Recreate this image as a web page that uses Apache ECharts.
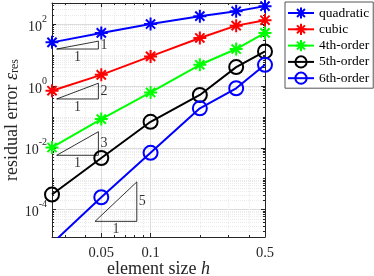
<!DOCTYPE html>
<html><head><meta charset="utf-8">
<script src="https://cdn.jsdelivr.net/npm/echarts@6/dist/echarts.min.js"></script>
<style>html,body{margin:0;padding:0;background:#fff}#c{width:374px;height:276px}</style>
</head><body><div id="c"></div>
<script>
// ---- data ----
const hValues = [0.025, 0.05, 0.1, 0.2, 1/3, 0.5];
const seriesNames = ['quadratic', 'cubic', '4th-order', '5th-order', '6th-order'];
const quadratic = [25.6, 51.8, 100, 180, 261, 380];
const cubic = [0.70, 2.28, 9.0, 35.5, 89, 133];
const order4 = [0.0102, 0.0845, 0.615, 4.82, 15.6, 51.8];
const order5 = [3.07e-4, 4.67e-3, 0.069, 0.509, 4.06, 13.0];
const order6 = [8.0e-6, 2.51e-4, 6.87e-3, 0.188, 0.84, 4.82];
const xTickValues = [0.05, 0.1, 0.5];
const yTickValues = [1e-4, 1e-2, 1, 1e2];
// slope triangles
const triX0 = [0.0267, 0.0267, 0.0267, 0.0458];
const triX1 = [0.048, 0.048, 0.048, 0.0824];
const triY0 = [15.6, 0.378, 5.7e-3, 4.17e-5];
const triSlope = [1, 2, 3, 5];

const xMin = 0.025, xMax = 0.5, yMin = 1.3e-5, yMax = 480;
const FONT = 'Liberation Serif';
const AXC = '#262626';

function minorValues(lo, hi, majors) {
  const out = [];
  for (let k = -6; k <= 3; k++) for (let m = 1; m <= 9; m++) {
    const v = +(m * Math.pow(10, k)).toPrecision(6);
    if (v > lo && v < hi && !majors.some(t => Math.abs(t - v) / v < 1e-6)) out.push(v);
  }
  return out;
}
const xMinor = minorValues(xMin, xMax, xTickValues);
const yMinor = minorValues(yMin, yMax, yTickValues);

const colors = ['#0000ff', '#ff0000', '#00ff00', '#000000', '#0000ff'];
const values = [quadratic, cubic, order4, order5, order6];
const STAR = 'path://M0,-10L0,10M-10,0L10,0M-7.07,-7.07L7.07,7.07M-7.07,7.07L7.07,-7.07';
const symbols = [STAR, STAR, STAR, 'circle', 'circle'];

const mainSeries = seriesNames.map((name, i) => ({
  name, type: 'line', xAxisIndex: 0, yAxisIndex: 0, z: 5,
  data: hValues.map((h, j) => [h, values[i][j]]),
  symbol: symbols[i], symbolSize: i < 3 ? 13 : 14,
  showAllSymbol: true,
  lineStyle: { color: colors[i], width: 2 },
  itemStyle: { color: i < 3 ? colors[i] : 'rgba(0,0,0,0)', borderColor: colors[i], borderWidth: 2 },
  emphasis: { disabled: true }, animation: false
}));

const triSeries = [];
const triLabels = [];
triX0.forEach((x0, i) => {
  const x1 = triX1[i], y0 = triY0[i], y1 = y0 * Math.pow(x1 / x0, triSlope[i]);
  triSeries.push({
    type: 'line', xAxisIndex: 0, yAxisIndex: 0, z: 3, silent: true, symbol: 'none',
    data: [[x0, y0], [x1, y0], [x1, y1], [x0, y0]],
    lineStyle: { color: '#000', width: 0.8 }, animation: false
  });
  triLabels.push({ name: '1', value: [Math.sqrt(x0 * x1), y0], label: { position: 'bottom', distance: 1 } });
  triLabels.push({ name: String(triSlope[i]), value: [x1, Math.sqrt(y0 * y1)], label: { position: 'right', distance: 2 } });
});

const labelSeries = {
  type: 'scatter', xAxisIndex: 0, yAxisIndex: 0, symbolSize: 0, silent: true, z: 4,
  data: triLabels,
  label: { show: true, formatter: '{b}', fontFamily: FONT, fontSize: 14, color: '#000' },
  animation: false
};

function xAx(extra) {
  return Object.assign({
    type: 'log', min: xMin, max: xMax, logBase: 10,
    axisLine: { show: false }, axisTick: { show: false }, axisLabel: { show: false },
    splitLine: { show: false }, minorTick: { show: false }, minorSplitLine: { show: false }
  }, extra);
}
function yAx(extra) {
  return Object.assign({
    type: 'log', min: yMin, max: yMax, logBase: 10,
    axisLine: { show: false }, axisTick: { show: false }, axisLabel: { show: false },
    splitLine: { show: false }, minorTick: { show: false }, minorSplitLine: { show: false }
  }, extra);
}

const option = {
  animation: false,
  backgroundColor: '#fff',
  grid: { left: 52, right: 109, top: 3, bottom: 39, containLabel: false, outerBoundsMode: 'none' },
  legend: {
    data: seriesNames, orient: 'vertical', left: 285, top: 2,
    padding: [4, 4, 3, 2], itemGap: 2.3, itemWidth: 26, itemHeight: 14,
    borderColor: '#555', borderWidth: 1, backgroundColor: '#fff', borderRadius: 0,
    textStyle: { fontFamily: FONT, fontSize: 13.5, color: '#000' },
    selectedMode: false
  },
  xAxis: [
    xAx({
      position: 'bottom',
      axisLine: { show: true, lineStyle: { color: AXC, width: 1 } },
      axisTick: { show: true, inside: true, length: 4, customValues: xTickValues, lineStyle: { color: AXC } },
      axisLabel: { show: true, customValues: xTickValues, formatter: v => String(+(+v).toPrecision(3)),
        fontFamily: FONT, fontSize: 14.5, color: AXC, margin: 9 },
      splitLine: { show: true, lineStyle: { color: '#dcdcdc', width: 1 } },
      name: '{n|element size }{i|h}', nameLocation: 'middle', nameGap: 23, nameMoveOverlap: false,
      nameTextStyle: { rich: { n: { fontFamily: FONT, fontSize: 18, color: AXC }, i: { fontFamily: FONT, fontSize: 18, fontStyle: 'italic', color: AXC } } }
    }),
    xAx({
      position: 'top',
      axisLine: { show: true, lineStyle: { color: AXC, width: 1 } },
      axisTick: { show: true, inside: true, length: 4, customValues: xTickValues, lineStyle: { color: AXC } }
    }),
    xAx({
      position: 'bottom',
      axisTick: { show: true, inside: true, length: 2, customValues: xMinor, lineStyle: { color: AXC } },
      splitLine: { show: true, lineStyle: { color: '#ebebeb', width: 1, type: [1, 1] } }
    }),
    xAx({
      position: 'top',
      axisTick: { show: true, inside: true, length: 2, customValues: xMinor, lineStyle: { color: AXC } }
    })
  ],
  yAxis: [
    yAx({
      position: 'left',
      axisLine: { show: true, lineStyle: { color: AXC, width: 1 } },
      axisTick: { show: true, inside: true, length: 4, customValues: yTickValues, lineStyle: { color: AXC } },
      axisLabel: { show: true, customValues: yTickValues, margin: 5,
        formatter: v => '{b|10}{s|' + Math.round(Math.log10(v)) + '}',
        rich: {
          b: { fontFamily: FONT, fontSize: 14, color: AXC, lineHeight: 20, verticalAlign: 'bottom' },
          s: { fontFamily: FONT, fontSize: 10, color: AXC, lineHeight: 10, verticalAlign: 'top' }
        } },
      splitLine: { show: true, lineStyle: { color: '#dcdcdc', width: 1 } },
      name: '{n|residual error }{e|ε}{s|res}', nameLocation: 'middle', nameGap: 31, nameRotate: 90,
      nameMoveOverlap: false,
      nameTextStyle: { rich: {
        n: { fontFamily: FONT, fontSize: 18, color: AXC },
        e: { fontFamily: FONT, fontSize: 18, fontStyle: 'italic', color: AXC },
        s: { fontFamily: FONT, fontSize: 12, color: AXC, padding: [6, 0, 0, 0] }
      } }
    }),
    yAx({
      position: 'right',
      axisLine: { show: true, lineStyle: { color: AXC, width: 1 } },
      axisTick: { show: true, inside: true, length: 4, customValues: yTickValues, lineStyle: { color: AXC } }
    }),
    yAx({
      position: 'left',
      axisTick: { show: true, inside: true, length: 2, customValues: yMinor, lineStyle: { color: AXC } },
      splitLine: { show: true, lineStyle: { color: '#ebebeb', width: 1, type: [1, 1] } }
    }),
    yAx({
      position: 'right',
      axisTick: { show: true, inside: true, length: 2, customValues: yMinor, lineStyle: { color: AXC } }
    })
  ],
  series: [...triSeries, labelSeries, ...mainSeries]
};

const chart = echarts.init(document.getElementById('c'), null, { renderer: 'canvas' });
chart.setOption(option);
</script>
</body></html>
